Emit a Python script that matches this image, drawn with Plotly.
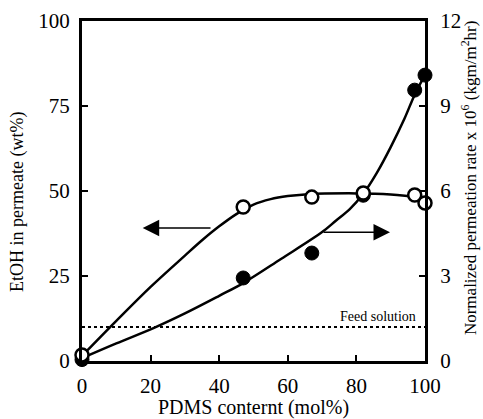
import plotly.graph_objects as go

# Data
pdms = [0, 47, 67, 82, 97, 100]
etoh_wt = [1.8, 45.3, 48.2, 49.4, 48.8, 46.5]          # open circles, left axis
perm_rate = [0.05, 2.93, 3.81, 5.85, 9.56, 10.09]     # filled circles, right axis

# Fitted (hand-drawn) curves
fit_etoh_x = [0, 10, 20, 30, 35, 40, 45, 50, 55, 60, 65, 80, 90, 100]
fit_etoh_y = [1.5, 11.8, 21.8, 31.0, 35.5, 39.6, 43.2, 46.0, 47.6, 48.5, 49.0, 49.3, 49.0, 48.0]
fit_rate_x = [0, 10, 21, 30, 40, 47, 58, 70, 74, 78, 82, 86, 90, 94, 97, 100]
fit_rate_y = [0.1, 0.62, 1.17, 1.68, 2.3, 2.75, 3.6, 4.55, 4.95, 5.35, 5.9, 6.65, 7.55, 8.55, 9.4, 10.1]

feed_level = 10
x_ticks = [0, 20, 40, 60, 80, 100]
left_ticks = [0, 25, 50, 75, 100]
right_ticks = [0, 3, 6, 9, 12]

FONT = "Liberation Serif"

fig = go.Figure()

# right axis (rate) is 'y', left axis (EtOH) is 'y2' overlaying so open circles draw on top
fig.add_trace(go.Scatter(x=fit_rate_x, y=fit_rate_y, mode="lines", yaxis="y",
                         line=dict(color="black", width=2.5, shape="spline", smoothing=1.0),
                         hoverinfo="skip", showlegend=False))
fig.add_trace(go.Scatter(x=pdms, y=perm_rate, mode="markers", yaxis="y", cliponaxis=False,
                         marker=dict(color="black", size=14, line=dict(color="black", width=1)),
                         showlegend=False))
fig.add_trace(go.Scatter(x=fit_etoh_x, y=fit_etoh_y, mode="lines", yaxis="y2",
                         line=dict(color="black", width=2.5, shape="spline", smoothing=1.0),
                         hoverinfo="skip", showlegend=False))
fig.add_trace(go.Scatter(x=[0, 100], y=[feed_level, feed_level], mode="lines", yaxis="y2",
                         line=dict(color="black", width=2, dash="dot"),
                         hoverinfo="skip", showlegend=False))
fig.add_trace(go.Scatter(x=pdms, y=etoh_wt, mode="markers", yaxis="y2", cliponaxis=False,
                         marker=dict(color="white", size=13, line=dict(color="black", width=2.5)),
                         showlegend=False))

axis_common = dict(showgrid=False, zeroline=False, showline=True, linecolor="black",
                   linewidth=3, ticks="inside", ticklen=6, tickwidth=2, tickcolor="black",
                   automargin=False,
                   tickfont=dict(family=FONT, size=21, color="black"))

fig.update_layout(
    width=483, height=419,
    margin=dict(l=82, r=58, t=21, b=58),
    paper_bgcolor="white", plot_bgcolor="white",
    font=dict(family=FONT, color="black"),
    xaxis=dict(range=[0, 100], tickvals=x_ticks, mirror=True, ticklabelstandoff=4,
               title=dict(text="PDMS conternt (mol%)", font=dict(family=FONT, size=20), standoff=0),
               **axis_common),
    yaxis=dict(range=[0, 12], tickvals=right_ticks, side="right", ticklabelstandoff=8,
               **axis_common),
    yaxis2=dict(range=[0, 100], tickvals=left_ticks, side="left", overlaying="y",
                ticklabelstandoff=5, **axis_common),
    showlegend=False,
)

# axis titles placed as annotations (offset to match reference)
fig.add_annotation(x=0, y=0.468, xref="paper", yref="paper", xshift=-64, textangle=-90,
                   text="EtOH in permeate (wt%)", showarrow=False, xanchor="center", yanchor="middle",
                   font=dict(family=FONT, size=18, color="black"))
fig.add_annotation(x=1, y=0.538, xref="paper", yref="paper", xshift=44, textangle=-90,
                   text="Normalized permeation rate x 10<sup>6</sup> (kgm/m<sup>2</sup>hr)",
                   showarrow=False, xanchor="center", yanchor="middle",
                   font=dict(family=FONT, size=17, color="black"))

# arrows
fig.add_annotation(x=17.7, y=39.1, ax=37.9, ay=39.1, xref="x", yref="y2", axref="x", ayref="y2",
                   showarrow=True, arrowhead=2, arrowsize=2.2, arrowwidth=1.5, arrowcolor="black", text="")
fig.add_annotation(x=89.8, y=37.9, ax=70, ay=37.9, xref="x", yref="y2", axref="x", ayref="y2",
                   showarrow=True, arrowhead=2, arrowsize=2.2, arrowwidth=1.5, arrowcolor="black", text="")
fig.add_annotation(x=98, y=feed_level, xref="x", yref="y2", text="Feed solution", showarrow=False,
                   xanchor="right", yanchor="bottom", yshift=1,
                   font=dict(family=FONT, size=14, color="black"))

fig.write_html("out.html")
